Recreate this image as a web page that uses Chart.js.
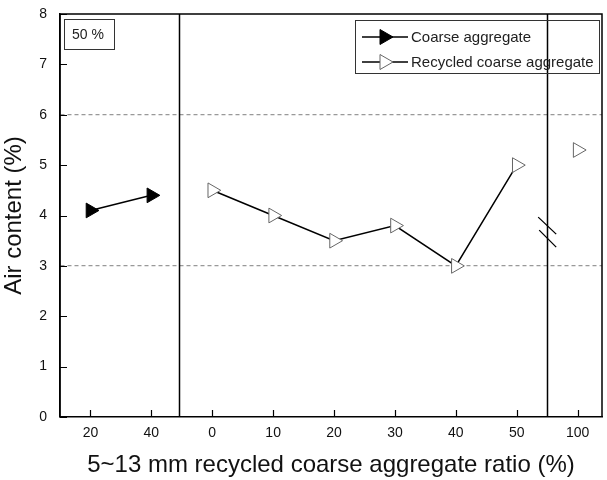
<!DOCTYPE html>
<html lang="en">
<head>
<meta charset="UTF-8">
<title>Air content</title>
<script src="https://cdn.jsdelivr.net/npm/chart.js"></script>
<style>
  html, body { margin: 0; padding: 0; background: #fff; }
  #wrap { width: 607px; height: 480px; }
</style>
</head>
<body>
<div id="wrap"><canvas id="grafico" width="607" height="480"></canvas></div>
<script>
// tick labels along the x axis (positions 0..8)
const xLabels = ['20', '40', '0', '10', '20', '30', '40', '50', '100'];
// coarse aggregate series
const coarseX = [0, 1];
const coarseY = [4.1, 4.4];
// recycled coarse aggregate series (the 100 % point is not joined)
const recycledX = [2, 3, 4, 5, 6, 7, 8];
const recycledY = [4.5, 4.0, 3.5, 3.8, 3.0, 5.0, 5.3];
const yTicks = [0, 1, 2, 3, 4, 5, 6, 7, 8];
const dashedAt = [3, 6];
const separators = [1.45, 7.5];

const FONT = "'Liberation Sans', Arial, sans-serif";

function puntos(xs, ys) {
  const out = [];
  xs.forEach((x, i) => {
    // break the line before the 100 % point
    if (i > 0 && xLabels[x] === '100') out.push({ x: x - 0.5, y: null });
    out.push({ x: x, y: ys[i] });
  });
  return out;
}

const extras = {
  id: 'extras',
  afterDatasetsDraw(chart) {
    const { ctx, chartArea: a, scales: { x, y } } = chart;
    ctx.save();
    ctx.strokeStyle = '#000';
    ctx.lineWidth = 1.5;
    // frame
    ctx.beginPath();
    ctx.moveTo(a.left, a.bottom); ctx.lineTo(a.left, a.top);
    ctx.lineTo(a.right, a.top); ctx.lineTo(a.right, a.bottom);
    ctx.stroke();
    // inward ticks
    ctx.lineWidth = 1.2;
    ctx.beginPath();
    yTicks.forEach(v => {
      const py = Math.round(y.getPixelForValue(v)) + 0.5;
      ctx.moveTo(a.left, py); ctx.lineTo(a.left + 7, py);
    });
    xLabels.forEach((_, i) => {
      const px = Math.round(x.getPixelForValue(i)) + 0.5;
      ctx.moveTo(px, a.bottom); ctx.lineTo(px, a.bottom - 7);
    });
    ctx.stroke();
    // section separators
    ctx.lineWidth = 1.5;
    ctx.beginPath();
    separators.forEach(s => {
      const px = Math.round(x.getPixelForValue(s)) + 0.5;
      ctx.moveTo(px, a.top); ctx.lineTo(px, a.bottom);
    });
    ctx.stroke();
    // axis break marks on the right separator
    const bx = x.getPixelForValue(separators[1]);
    const by = y.getPixelForValue(3.65);
    ctx.lineWidth = 1.3;
    ctx.beginPath();
    ctx.moveTo(bx - 9, by - 16); ctx.lineTo(bx + 9, by + 1);
    ctx.moveTo(bx - 8, by - 3); ctx.lineTo(bx + 9, by + 14);
    ctx.stroke();
    // "50 %" box
    ctx.lineWidth = 1;
    ctx.strokeStyle = '#333';
    ctx.strokeRect(64.5, 19.5, 50, 30);
    ctx.fillStyle = '#222';
    ctx.font = '14px ' + FONT;
    ctx.textBaseline = 'middle';
    ctx.fillText('50 %', 72, 35);
    // legend
    ctx.strokeRect(355.5, 20.5, 244, 53);
    ctx.font = '15px ' + FONT;
    const rows = [
      { yy: 37, text: 'Coarse aggregate', fill: '#000', stroke: '#000' },
      { yy: 62, text: 'Recycled coarse aggregate', fill: '#fff', stroke: '#666' }
    ];
    rows.forEach(r => {
      ctx.strokeStyle = '#000';
      ctx.lineWidth = 1.5;
      ctx.beginPath();
      ctx.moveTo(362, r.yy); ctx.lineTo(408, r.yy);
      ctx.stroke();
      ctx.beginPath();
      ctx.moveTo(380, r.yy - 7.5); ctx.lineTo(393, r.yy); ctx.lineTo(380, r.yy + 7.5); ctx.closePath();
      ctx.fillStyle = r.fill; ctx.fill();
      ctx.lineWidth = 1; ctx.strokeStyle = r.stroke; ctx.stroke();
      ctx.fillStyle = '#222';
      ctx.fillText(r.text, 411, r.yy + 1);
    });
    ctx.restore();
  }
};

new Chart(document.getElementById('grafico'), {
  type: 'line',
  data: {
    datasets: [{
      label: 'Coarse aggregate',
      data: puntos(coarseX, coarseY),
      borderColor: '#000',
      borderWidth: 1.5,
      pointStyle: 'triangle',
      rotation: 90,
      pointRadius: 8.5,
      pointBackgroundColor: '#000',
      pointBorderColor: '#000',
      pointBorderWidth: 1
    }, {
      label: 'Recycled coarse aggregate',
      data: puntos(recycledX, recycledY),
      borderColor: '#000',
      borderWidth: 1.5,
      spanGaps: false,
      pointStyle: 'triangle',
      rotation: 90,
      pointRadius: 8.5,
      pointBackgroundColor: '#fff',
      pointBorderColor: '#666',
      pointBorderWidth: 1
    }]
  },
  options: {
    responsive: false,
    animation: false,
    layout: { autoPadding: false, padding: { top: 14, right: 5, left: 0, bottom: 0 } },
    plugins: { legend: { display: false }, tooltip: { enabled: false } },
    scales: {
      x: {
        type: 'linear',
        min: -0.5,
        max: 8.4,
        afterBuildTicks: s => { s.ticks = xLabels.map((_, i) => ({ value: i })); },
        afterFit: s => { s.height = 63; },
        grid: { display: false, drawTicks: false },
        border: { display: true, color: '#000', width: 1.5 },
        ticks: {
          callback: v => xLabels[v],
          color: '#111',
          padding: 8,
          maxRotation: 0,
          autoSkip: false,
          font: { family: FONT, size: 14 }
        },
        title: {
          display: true,
          text: '5~13 mm recycled coarse aggregate ratio (%)',
          color: '#111',
          padding: { top: 4, bottom: 0 },
          font: { family: FONT, size: 24 }
        }
      },
      y: {
        min: 0,
        max: 8,
        afterBuildTicks: s => { s.ticks = yTicks.map(v => ({ value: v })); },
        afterFit: s => { s.width = 60; s.paddingTop = 0; s.paddingBottom = 0; },
        grid: {
          drawTicks: false,
          color: c => dashedAt.includes(c.tick && c.tick.value) ? '#999' : 'rgba(0,0,0,0)',
          lineWidth: 1.2
        },
        border: { display: true, color: '#000', width: 1.5, dash: [4, 3] },
        ticks: {
          color: '#111',
          padding: 13,
          font: { family: FONT, size: 14 }
        },
        title: {
          display: true,
          text: 'Air content (%)',
          color: '#111',
          padding: { top: 0, bottom: 2 },
          font: { family: FONT, size: 24 }
        }
      }
    }
  },
  plugins: [extras]
});
</script>
</body>
</html>
